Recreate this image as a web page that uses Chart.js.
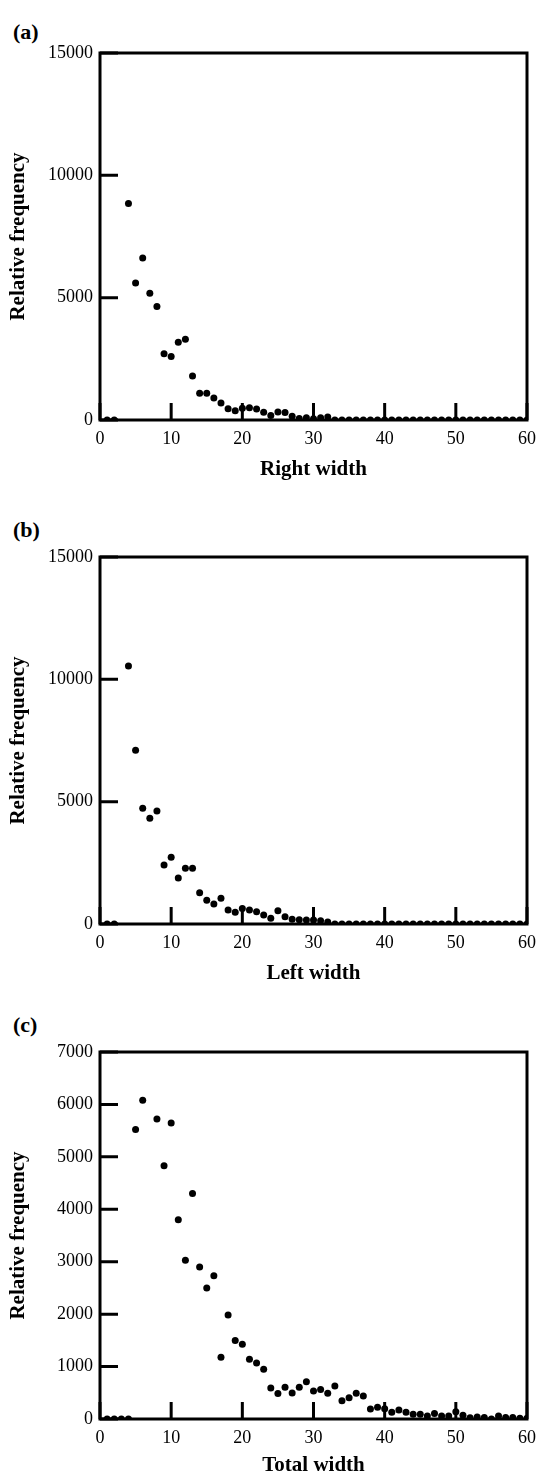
<!DOCTYPE html>
<html>
<head>
<meta charset="utf-8">
<title>Width distributions</title>
<script src="https://cdn.jsdelivr.net/npm/chart.js@4"></script>
<style>
    body { margin: 0; background: #fff; }
    #wrap { position: relative; width: 537px; height: 1476px; overflow: hidden; }
    .panel { position: absolute; left: 0; }
    .tag { position: absolute; left: 13px; font: bold 22px "Liberation Serif", "Times New Roman", serif; color: #000; line-height: 22px; }
</style>
</head>
<body>
<div id="wrap">
    <div class="tag" style="top:21px">(a)</div>
    <canvas class="panel" id="chartA" width="537" height="480" style="top:0px"></canvas>
    <div class="tag" style="top:519px">(b)</div>
    <canvas class="panel" id="chartB" width="537" height="494" style="top:490px"></canvas>
    <div class="tag" style="top:1014px">(c)</div>
    <canvas class="panel" id="chartC" width="537" height="480" style="top:996px"></canvas>
</div>
<script>
// largeur (en pixels) 1..60
const widths = [1, 2, 3, 4, 5, 6, 7, 8, 9, 10,
    11, 12, 13, 14, 15, 16, 17, 18, 19, 20,
    21, 22, 23, 24, 25, 26, 27, 28, 29, 30,
    31, 32, 33, 34, 35, 36, 37, 38, 39, 40,
    41, 42, 43, 44, 45, 46, 47, 48, 49, 50,
    51, 52, 53, 54, 55, 56, 57, 58, 59, 60];

// (a) Right width
const rightFreq = [0, 0, null, 8850, 5600, 6620, 5180, 4640, 2710, 2600,
    3180, 3300, 1800, 1090, 1090, 900, 690, 460, 380, 480,
    500, 450, 320, 180, 330, 310, 150, 60, 90, 50,
    90, 120, 0, 0, 0, 0, 0, 0, 0, 0,
    0, 0, 0, 0, 0, 0, 0, 0, 0, 0,
    0, 0, 0, 0, 0, 0, 0, 0, 0, 0];

// (b) Left width
const leftFreq = [0, 0, null, 10540, 7100, 4730, 4320, 4620, 2410, 2730,
    1880, 2280, 2280, 1280, 970, 820, 1050, 570, 480, 630,
    570, 500, 370, 230, 545, 300, 190, 170, 160, 160,
    130, 80, 0, 0, 0, 0, 0, 0, 0, 0,
    0, 0, 0, 0, 0, 0, 0, 0, 0, 0,
    0, 0, 0, 0, 0, 0, 0, 0, 0, 0];

// (c) Total width
const totalFreq = [0, 0, 0, 0, 5520, 6080, null, 5720, 4830, 5645,
    3800, 3030, 4300, 2900, 2500, 2730, 1180, 1985, 1495, 1425,
    1140, 1070, 950, 590, 485, 605, 495, 605, 710, 535,
    565, 490, 630, 350, 405, 490, 440, 190, 225, 195,
    130, 170, 130, 90, 90, 55, 105, 55, 55, 140,
    70, 25, 40, 30, 0, 55, 30, 30, 15, 15];

const xTicks = [0, 10, 20, 30, 40, 50, 60];
const yTicksWide = [0, 5000, 10000, 15000];
const yTicksTotal = [0, 1000, 2000, 3000, 4000, 5000, 6000, 7000];

const serif = '"Liberation Serif", "Times New Roman", serif';

// cadre épais + graduations vers l'intérieur
const framePlugin = {
    id: "frame",
    beforeDatasetsDraw(chart) {
        const ctx = chart.ctx;
        const area = chart.chartArea;
        const xs = chart.scales.x;
        const ys = chart.scales.y;
        ctx.save();
        ctx.strokeStyle = "#000";
        ctx.lineWidth = 3;
        ctx.strokeRect(area.left, area.top, area.right - area.left, area.bottom - area.top);
        ctx.beginPath();
        xs.ticks.forEach(t => {
            const px = xs.getPixelForValue(t.value);
            ctx.moveTo(px, area.bottom);
            ctx.lineTo(px, area.bottom - 17);
        });
        ys.ticks.forEach(t => {
            const py = ys.getPixelForValue(t.value);
            ctx.moveTo(area.left, py);
            ctx.lineTo(area.left + 18, py);
        });
        ctx.stroke();
        ctx.restore();
    }
};

function makeChart(id, values, xTitle, yMax, yTicks, padTop, xHeight) {
    const points = widths.map((w, i) => ({ x: w, y: values[i] }));
    return new Chart(document.getElementById(id).getContext("2d"), {
        type: "scatter",
        data: {
            datasets: [{
                data: points,
                pointRadius: 3.5,
                pointBackgroundColor: "#000",
                pointBorderWidth: 0,
                showLine: false
            }]
        },
        options: {
            responsive: false,
            animation: false,
            layout: { padding: { top: padTop, right: 10, left: 0, bottom: 0 } },
            plugins: { legend: { display: false }, tooltip: { enabled: false } },
            scales: {
                x: {
                    type: "linear",
                    min: 0,
                    max: 60,
                    afterBuildTicks: s => { s.ticks = xTicks.map(v => ({ value: v })); },
                    afterFit: s => { s.height = xHeight; s.paddingLeft = 0; s.paddingRight = 0; },
                    grid: { display: false, drawTicks: false },
                    border: { display: false },
                    ticks: {
                        color: "#000", padding: 8, maxRotation: 0,
                        font: { family: serif, size: 18 },
                        callback: v => String(v)
                    },
                    title: {
                        display: true,
                        text: xTitle,
                        color: "#000",
                        padding: 0,
                        font: { family: serif, size: 21, weight: "bold", lineHeight: 1 }
                    }
                },
                y: {
                    min: 0,
                    max: yMax,
                    afterBuildTicks: s => { s.ticks = yTicks.map(v => ({ value: v })); },
                    afterFit: s => { s.width = 100; },
                    grid: { display: false, drawTicks: false },
                    border: { display: false },
                    ticks: {
                        color: "#000", padding: 7,
                        font: { family: serif, size: 18 },
                        callback: v => String(v)
                    },
                    title: {
                        display: true,
                        text: "Relative frequency",
                        color: "#000",
                        padding: { top: 8, bottom: 0 },
                        font: { family: serif, size: 21, weight: "bold", lineHeight: 1 }
                    }
                }
            }
        },
        plugins: [framePlugin]
    });
}

document.addEventListener("DOMContentLoaded", function () {
    makeChart("chartA", rightFreq, "Right width", 15000, yTicksWide, 53, 60);
    makeChart("chartB", leftFreq, "Left width", 15000, yTicksWide, 67, 60);
    makeChart("chartC", totalFreq, "Total width", 7000, yTicksTotal, 56, 57);
});
</script>
</body>
</html>
